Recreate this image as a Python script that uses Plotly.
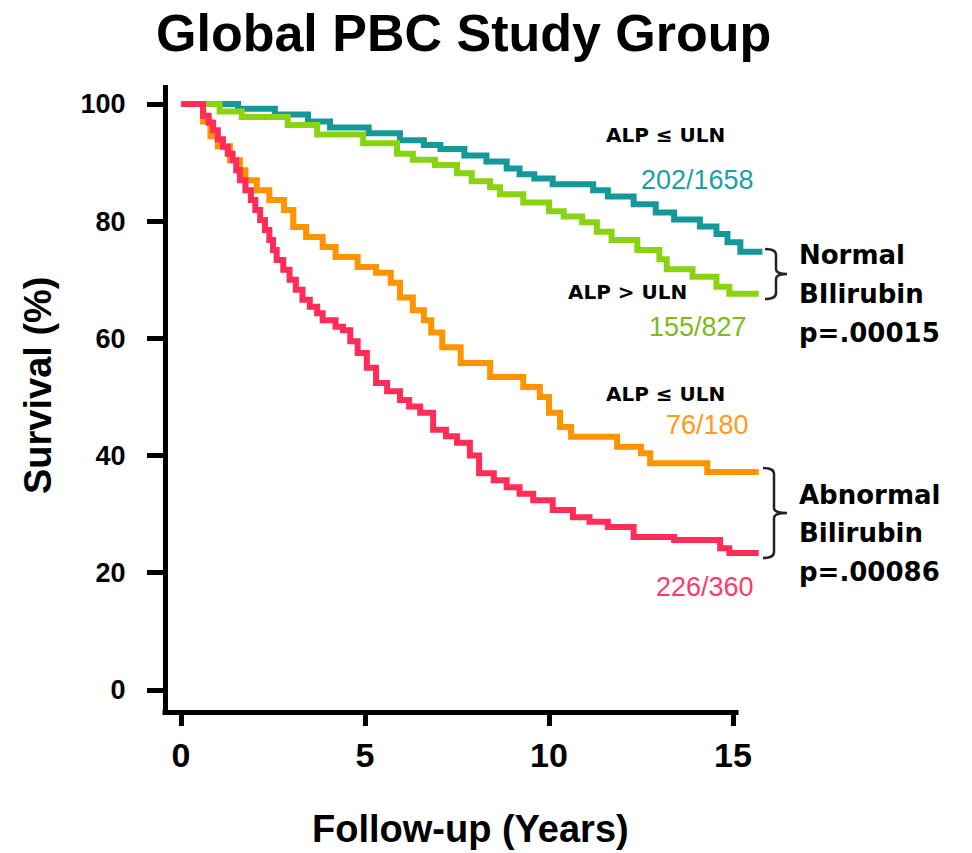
import plotly.graph_objects as go

# ---------------- data ----------------
teal_x = [0, 1.55, 2.55, 3.45, 4.05, 5.1, 5.95, 6.6, 7.05, 7.7, 8.3, 8.85, 9.2, 9.6,
          10.1, 11.2, 11.6, 12.3, 12.9, 13.4, 14.1, 14.55, 14.85, 15.2, 15.8]
teal_y = [100, 99.2, 98.2, 97.0, 96.0, 95.0, 93.8, 93.0, 92.3, 91.2, 90.2, 89.0, 88.0, 87.3,
          86.3, 85.3, 84.2, 82.9, 81.5, 80.3, 79.1, 77.8, 76.4, 74.8, 74.8]

green_x = [0, 1.05, 1.65, 2.9, 3.7, 4.95, 5.87, 6.3, 6.9, 7.5, 7.9, 8.4, 8.67, 9.3,
           10.0, 10.4, 10.9, 11.3, 11.7, 12.4, 13.0, 13.2, 13.9, 14.55, 14.9, 15.7]
green_y = [100, 98.7, 97.8, 96.4, 94.8, 93.3, 91.5, 90.5, 89.6, 88.2, 86.8, 85.8, 84.6, 83.2,
           81.7, 80.8, 79.8, 78.2, 76.8, 75.1, 73.5, 71.8, 70.5, 68.8, 67.6, 67.6]

orange_x = [0, 0.6, 0.8, 1.0, 1.33, 1.6, 1.75, 2.06, 2.4, 2.8, 3.05, 3.4, 3.85, 4.2, 4.8,
            5.3, 5.7, 5.95, 6.3, 6.6, 6.8, 7.1, 7.6, 8.4, 9.3, 9.75, 10.0, 10.3, 10.6,
            11.85, 12.5, 12.75, 14.3, 15.7]
orange_y = [100, 97.0, 94.5, 92.8, 90.4, 88.7, 87.0, 85.3, 83.6, 81.9, 79.0, 77.3, 75.6, 73.9, 72.2,
            71.2, 69.5, 67.0, 64.8, 63.1, 61.0, 58.5, 55.8, 53.4, 51.7, 50.0, 47.3, 44.9, 43.2,
            41.5, 40.4, 38.7, 37.2, 37.2]

red_x = [0, 0.6, 0.75, 0.87, 1.0, 1.14, 1.27, 1.4, 1.5, 1.6, 1.75, 1.9, 2.02, 2.15, 2.28,
         2.4, 2.5, 2.6, 2.78, 2.95, 3.12, 3.3, 3.5, 3.7, 3.85, 4.2, 4.4, 4.6, 4.8, 5.05,
         5.3, 5.6, 5.95, 6.2, 6.5, 6.85, 7.2, 7.5, 7.85, 8.1, 8.5, 8.85, 9.2, 9.57, 10.1,
         10.65, 11.1, 11.6, 12.3, 13.4, 14.65, 14.9, 15.7]
red_y = [100, 98.0, 96.8, 95.5, 94.0, 92.7, 91.5, 90.4, 88.7, 87.0, 85.3, 83.6, 81.9, 80.2, 78.5,
         76.8, 75.1, 73.4, 71.7, 70.0, 68.3, 66.6, 65.4, 64.3, 63.1, 62.0, 61.4, 59.5, 57.5, 55.0,
         52.4, 51.0, 49.5, 48.4, 47.3, 44.4, 43.3, 42.2, 40.0, 37.0, 35.8, 34.6, 33.5, 32.4, 30.7,
         29.5, 28.7, 27.8, 26.1, 25.6, 24.2, 23.4, 23.4]

x_ticks = [0, 5, 10, 15]
y_ticks = [0, 20, 40, 60, 80, 100]

title_text = "Global PBC Study Group"
x_title = "Follow-up (Years)"
y_title = "Survival (%)"

# ---------------- layout geometry ----------------
W, H = 972, 853
PL, PR, PT, PB = 168, 790, 85, 710          # plot area in pixels
X0PX, XSCALE = 181, 36.8                    # pixel of x=0, px per year
Y0PX, YSCALE = 690, 5.86                    # pixel of y=0, px per %

x_range = [(PL - X0PX) / XSCALE, (PR - X0PX) / XSCALE]
y_range = [(Y0PX - PB) / YSCALE, (Y0PX - PT) / YSCALE]


def pxx(p):
    return (p - PL) / (PR - PL)


def pxy(p):
    return (PB - p) / (PB - PT)


TEAL = "#14989a"
GREEN = "#8ad312"
ORANGE = "#ff9300"
RED = "#ff2d57"

fig = go.Figure()
for xs, ys, c in [(teal_x, teal_y, TEAL), (green_x, green_y, GREEN),
                  (orange_x, orange_y, ORANGE), (red_x, red_y, RED)]:
    fig.add_trace(go.Scatter(x=xs, y=ys, mode="lines", line=dict(color=c, width=6, shape="hv"),
                             showlegend=False, hoverinfo="skip"))

BOLD_ARIAL = dict(family="Liberation Sans, Arial", color="black", weight="bold")

fig.update_layout(
    width=W, height=H,
    margin=dict(l=PL, r=W - PR, t=PT, b=H - PB),
    plot_bgcolor="white", paper_bgcolor="white",
    showlegend=False,
    xaxis=dict(range=x_range, tickvals=x_ticks, ticktext=[str(v) for v in x_ticks],
               showgrid=False, zeroline=False, showline=False,
               ticks="outside", ticklen=15, tickwidth=5, tickcolor="black",
               ticklabelstandoff=0,
               tickfont=dict(size=34, **BOLD_ARIAL)),
    yaxis=dict(range=y_range, tickvals=y_ticks, ticktext=[str(v) for v in y_ticks],
               showgrid=False, zeroline=False, showline=True, linewidth=5, linecolor="black",
               ticks="outside", ticklen=16, tickwidth=5, tickcolor="black",
               ticklabelstandoff=16,
               tickfont=dict(size=27, **BOLD_ARIAL)),
)

# bottom axis line (curves run past its end)
fig.add_shape(type="line", xref="paper", yref="paper",
              x0=pxx(162.5), x1=pxx(X0PX + 15.15 * XSCALE), y0=pxy(PB + 2.5), y1=pxy(PB + 2.5),
              line=dict(color="black", width=5))

ann = []
# title & axis titles
ann.append(dict(text=title_text, xref="paper", yref="paper", x=pxx(463), y=pxy(33),
                showarrow=False, font=dict(size=52, **BOLD_ARIAL)))
ann.append(dict(text=x_title, xref="paper", yref="paper", x=pxx(470), y=pxy(829),
                showarrow=False, font=dict(size=38, **BOLD_ARIAL)))
ann.append(dict(text=y_title, xref="paper", yref="paper", x=pxx(38), y=pxy(385),
                textangle=-90, showarrow=False, font=dict(size=38, **BOLD_ARIAL)))

# curve labels
LBL = dict(family="DejaVu Sans", color="black", size=20, weight="bold")
NUM = dict(family="Liberation Sans, Arial", size=27)
curve_labels = [
    ("ALP ≤ ULN", 665, 135, LBL),
    ("202/1658", 697, 180, dict(NUM, color="#1a9fa6")),
    ("ALP > ULN", 627, 292, LBL),
    ("155/827", 698, 327, dict(NUM, color="#7cba1a")),
    ("ALP ≤ ULN", 665, 394, LBL),
    ("76/180", 707, 425, dict(NUM, color="#ff9a1c")),
    ("226/360", 705, 587, dict(NUM, color="#ff3a66")),
]
for t, x, y, f in curve_labels:
    ann.append(dict(text=t, xref="paper", yref="paper", x=pxx(x), y=pxy(y),
                    showarrow=False, font=f))

# bracket group labels
GRP = dict(family="DejaVu Sans", color="black", size=26, weight="bold")
group_lines = [("Normal", 255), ("BIlirubin", 294), ("p=.00015", 333),
               ("Abnormal", 495), ("Bilirubin", 533), ("p=.00086", 572)]
for t, y in group_lines:
    ann.append(dict(text=t, xref="paper", yref="paper", x=pxx(797), y=pxy(y),
                    xanchor="left", showarrow=False, font=GRP))
for a in ann:
    a.setdefault("xanchor", "center")
    a["yanchor"] = "middle"
fig.update_layout(annotations=ann)


def brace(x_in, x_mid, x_tip, y_top, y_bot):
    ym = (y_top + y_bot) / 2
    pts = [
        f"M {pxx(x_in)},{pxy(y_top)}",
        f"Q {pxx(x_mid)},{pxy(y_top)} {pxx(x_mid)},{pxy(y_top + 6)}",
        f"L {pxx(x_mid)},{pxy(ym - 5)}",
        f"Q {pxx(x_mid)},{pxy(ym)} {pxx(x_tip)},{pxy(ym)}",
        f"Q {pxx(x_mid)},{pxy(ym)} {pxx(x_mid)},{pxy(ym + 5)}",
        f"L {pxx(x_mid)},{pxy(y_bot - 6)}",
        f"Q {pxx(x_mid)},{pxy(y_bot)} {pxx(x_in)},{pxy(y_bot)}",
    ]
    return " ".join(pts)


for args in [(765, 776, 787, 249, 299), (763, 774, 787, 468, 558)]:
    fig.add_shape(type="path", xref="paper", yref="paper", path=brace(*args),
                  line=dict(color="#222222", width=2.5))

fig.write_html("out.html")
